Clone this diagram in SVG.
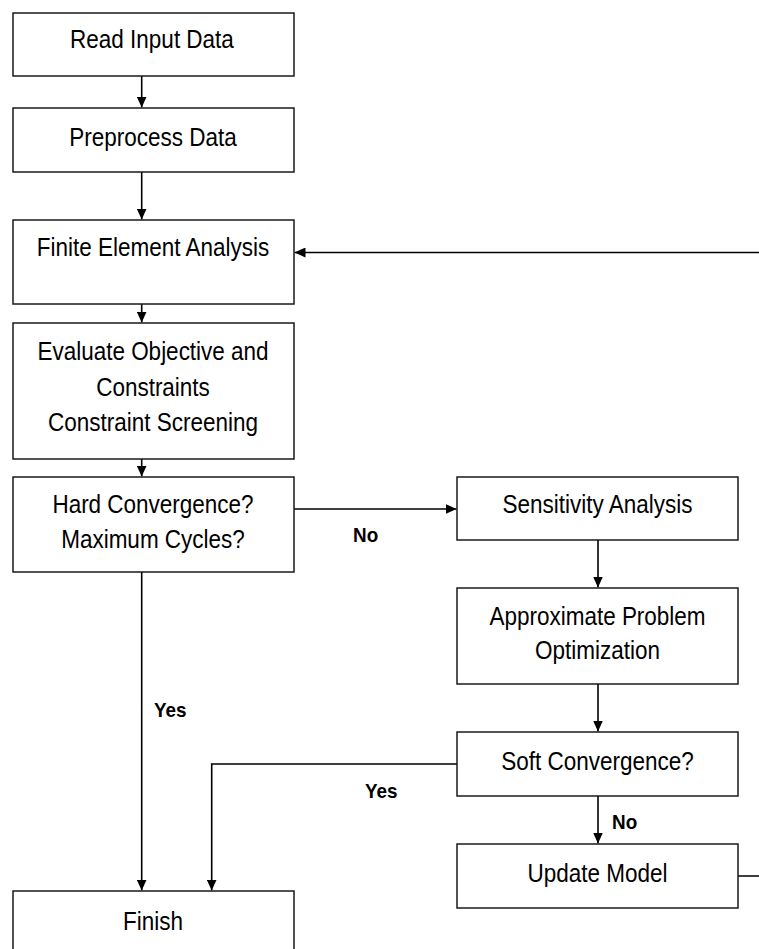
<svg xmlns="http://www.w3.org/2000/svg" width="759" height="949" viewBox="0 0 759 949">
<style>
.box{fill:#fff;stroke:#1a1a1a;stroke-width:1.5}
.t{font-family:"Liberation Sans",Arial,sans-serif;font-size:25px;fill:#000;text-anchor:middle}
.lbl{font-family:"Liberation Sans",Arial,sans-serif;font-size:21px;font-weight:bold;fill:#000}
.c{fill:none;stroke:#000;stroke-width:1.6}
</style>
<defs>
<marker id="ah" markerUnits="userSpaceOnUse" markerWidth="11" markerHeight="10" refX="11" refY="5" orient="auto">
<path d="M0,0 L11,5 L0,10 z" fill="#000"/>
</marker>
</defs>
<rect width="759" height="949" fill="#fff"/>
<g id="connectors">
<path class="c" d="M141.7,76 V107.5" marker-end="url(#ah)"/>
<path class="c" d="M141.7,172 V219.5" marker-end="url(#ah)"/>
<path class="c" d="M141.7,304 V322.5" marker-end="url(#ah)"/>
<path class="c" d="M141.7,459 V476.5" marker-end="url(#ah)"/>
<path class="c" d="M294,509 H456.5" marker-end="url(#ah)"/>
<path class="c" d="M141.7,572 V890.5" marker-end="url(#ah)"/>
<path class="c" d="M598,540 V587.5" marker-end="url(#ah)"/>
<path class="c" d="M598,684 V731.5" marker-end="url(#ah)"/>
<path class="c" d="M457,764 H211.7 V890.5" marker-end="url(#ah)"/>
<path class="c" d="M598,796 V843.5" marker-end="url(#ah)"/>
<path class="c" d="M738,876 H763 V252.5 H294.5" marker-end="url(#ah)"/>
<text class="lbl" transform="translate(353,542) scale(0.9,1)">No</text>
<text class="lbl" transform="translate(154,717) scale(0.9,1)">Yes</text>
<text class="lbl" transform="translate(365,798) scale(0.9,1)">Yes</text>
<text class="lbl" transform="translate(612,829) scale(0.9,1)">No</text>
</g>
<g id="read">
<rect class="box" x="13" y="13" width="281" height="63"/>
<text class="t" transform="translate(152,48) scale(0.9,1)">Read Input Data</text>
</g>
<g id="preprocess">
<rect class="box" x="13" y="108" width="281" height="64"/>
<text class="t" transform="translate(153,145.5) scale(0.9,1)">Preprocess Data</text>
</g>
<g id="fea">
<rect class="box" x="13" y="220" width="281" height="84"/>
<text class="t" transform="translate(153,256) scale(0.9,1)">Finite Element Analysis</text>
</g>
<g id="evaluate">
<rect class="box" x="13" y="323" width="281" height="136"/>
<text class="t" transform="translate(153,360) scale(0.9,1)"><tspan x="0" y="0">Evaluate Objective and</tspan><tspan x="0" y="36">Constraints</tspan><tspan x="0" y="71.5">Constraint Screening</tspan></text>
</g>
<g id="hard">
<rect class="box" x="13" y="477" width="281" height="95"/>
<text class="t" transform="translate(153,513) scale(0.9,1)"><tspan x="0" y="0">Hard Convergence?</tspan><tspan x="0" y="35">Maximum Cycles?</tspan></text>
</g>
<g id="sensitivity">
<rect class="box" x="457" y="477" width="281" height="63"/>
<text class="t" transform="translate(597.5,513) scale(0.9,1)">Sensitivity Analysis</text>
</g>
<g id="approx">
<rect class="box" x="457" y="588" width="281" height="96"/>
<text class="t" transform="translate(597.5,625) scale(0.9,1)"><tspan x="0" y="0">Approximate Problem</tspan><tspan x="0" y="34.5">Optimization</tspan></text>
</g>
<g id="soft">
<rect class="box" x="457" y="732" width="281" height="64"/>
<text class="t" transform="translate(597.5,770) scale(0.9,1)">Soft Convergence?</text>
</g>
<g id="update">
<rect class="box" x="457" y="844" width="281" height="64"/>
<text class="t" transform="translate(597.5,882) scale(0.9,1)">Update Model</text>
</g>
<g id="finish">
<rect class="box" x="13" y="891" width="281" height="80"/>
<text class="t" transform="translate(153,930) scale(0.9,1)">Finish</text>
</g>
</svg>
